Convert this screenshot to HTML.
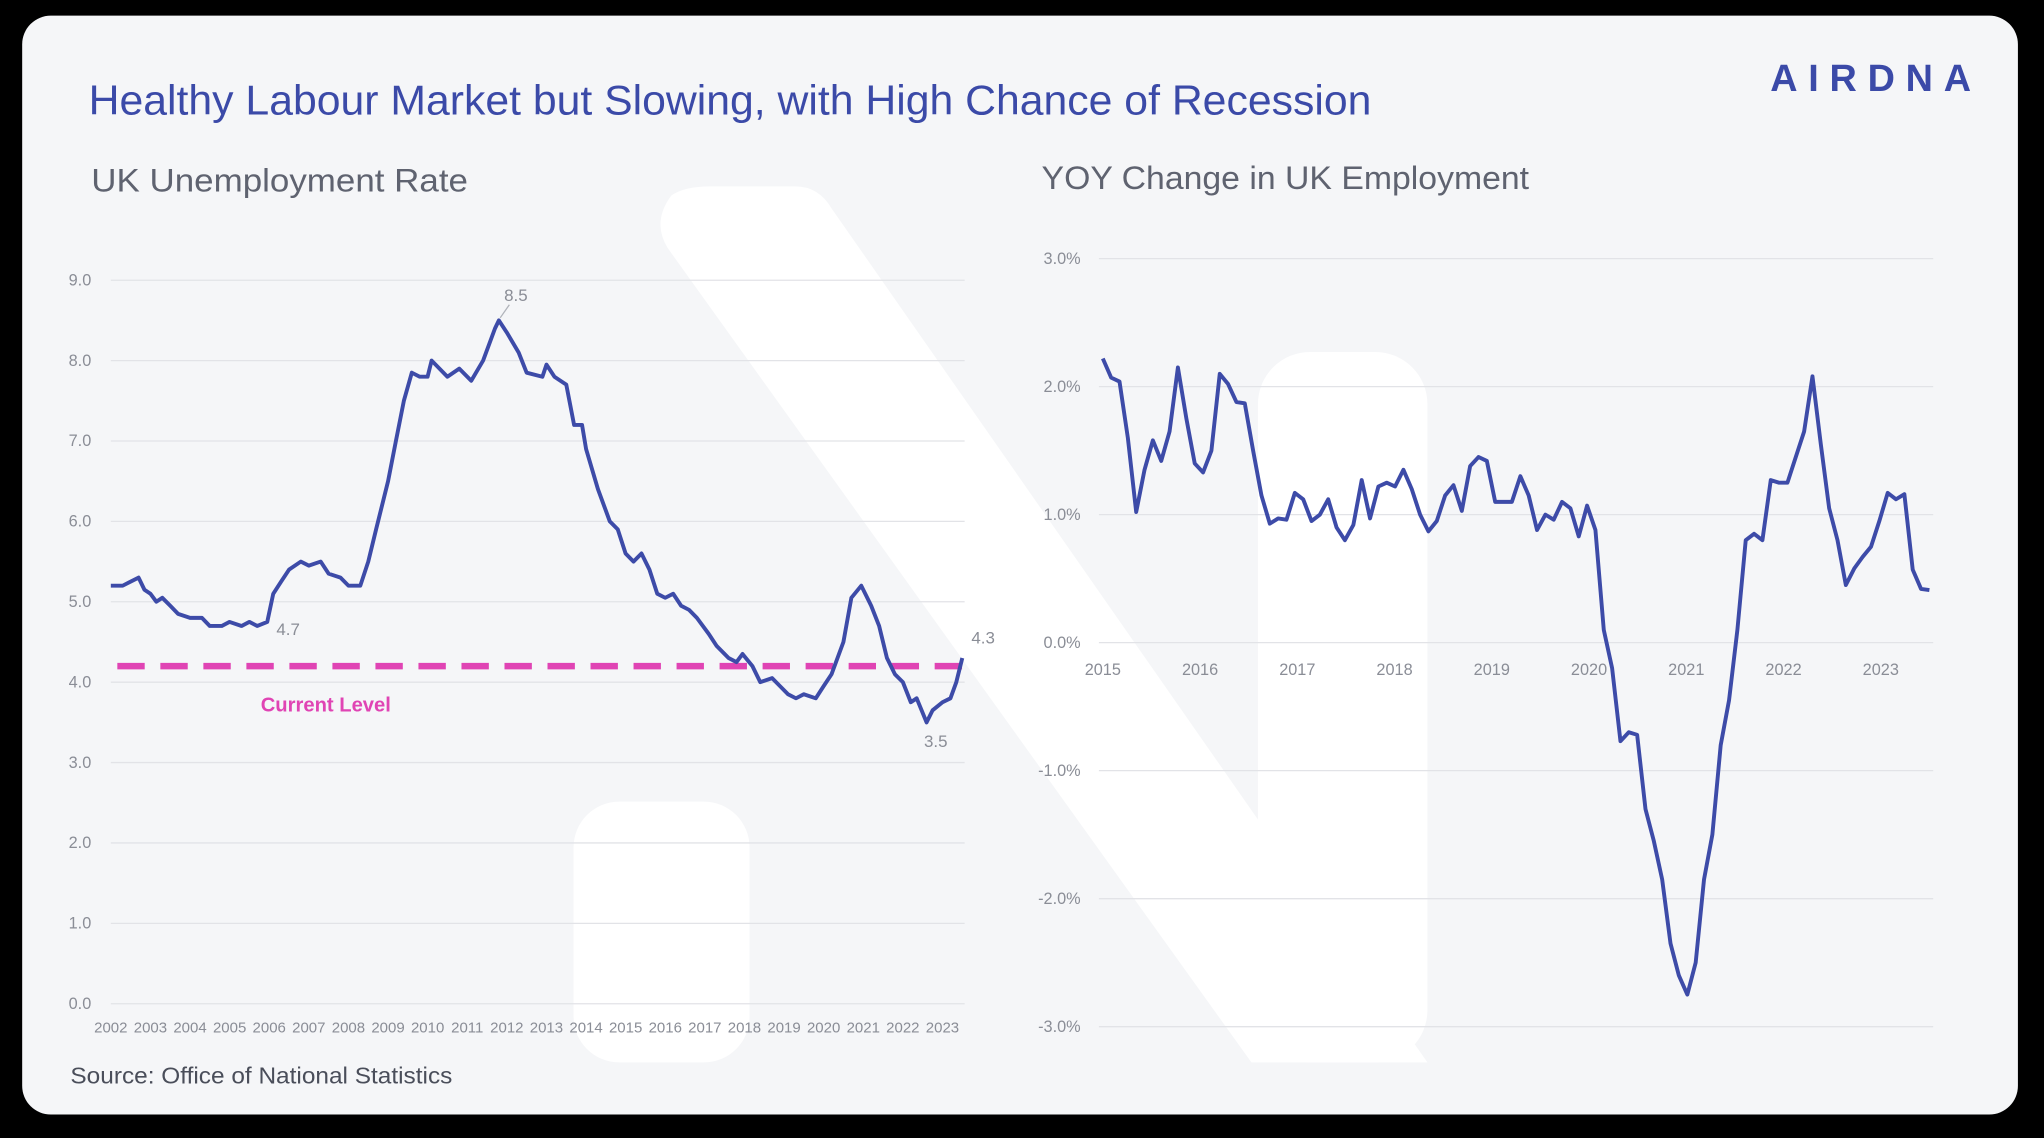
<!DOCTYPE html>
<html><head><meta charset="utf-8"><style>
html,body{margin:0;padding:0;background:#000;}
svg{display:block;}
text{font-family:"Liberation Sans",sans-serif;}
</style></head><body>
<svg id="chart" width="2044" height="1138" viewBox="0 0 1568 873" xmlns="http://www.w3.org/2000/svg">
<rect x="0" y="0" width="1568" height="873" fill="#000"/>
<rect x="17" y="12" width="1531" height="843" rx="22" fill="#f5f6f8"/>
<g fill="#ffffff">
<path d="M515,150 Q525,143 545,143 L610,143 Q628,143 638,160 L1095,815 L960,815 L512,190 Q500,170 515,150 Z"/>
<rect x="965" y="270" width="130" height="545" rx="40"/>
<rect x="440" y="615" width="135" height="200" rx="35"/>
</g>
<text x="68" y="88" font-size="32" fill="#3b4aa8" textLength="984" lengthAdjust="spacingAndGlyphs">Healthy Labour Market but Slowing, with High Chance of Recession</text>
<text x="1358" y="70" font-size="29" font-weight="bold" fill="#3b4aa8" textLength="154" lengthAdjust="spacing">AIRDNA</text>
<text x="70" y="147" font-size="25" fill="#5f6370" textLength="289" lengthAdjust="spacingAndGlyphs">UK Unemployment Rate</text>
<text x="799" y="145" font-size="25" fill="#5f6370" textLength="374" lengthAdjust="spacingAndGlyphs">YOY Change in UK Employment</text>
<text x="54" y="831" font-size="18" fill="#4a4e5a" textLength="293" lengthAdjust="spacingAndGlyphs">Source: Office of National Statistics</text>
<g id="left"></g>
<g id="right"></g>
</svg>
<script>
// ---- Left chart data: UK unemployment rate ----
const uDates = [2002.0,2002.3,2002.7,2002.85,2003.0,2003.15,2003.3,2003.5,2003.7,2004.0,2004.3,2004.5,2004.8,2005.0,2005.3,2005.5,2005.7,2005.95,2006.1,2006.3,2006.5,2006.8,2007.0,2007.3,2007.5,2007.8,2008.0,2008.3,2008.5,2008.7,2009.0,2009.2,2009.4,2009.6,2009.8,2010.0,2010.1,2010.5,2010.8,2011.1,2011.4,2011.7,2011.8,2012.0,2012.3,2012.5,2012.9,2013.0,2013.2,2013.5,2013.7,2013.9,2014.0,2014.3,2014.6,2014.8,2015.0,2015.2,2015.4,2015.6,2015.8,2016.0,2016.2,2016.4,2016.6,2016.8,2017.1,2017.3,2017.6,2017.8,2017.95,2018.2,2018.4,2018.7,2018.9,2019.1,2019.3,2019.5,2019.8,2020.0,2020.2,2020.5,2020.7,2020.95,2021.2,2021.4,2021.6,2021.8,2022.0,2022.2,2022.35,2022.6,2022.75,2023.0,2023.2,2023.35,2023.5];
const uRates = [5.2,5.2,5.3,5.15,5.1,5.0,5.05,4.95,4.85,4.8,4.8,4.7,4.7,4.75,4.7,4.75,4.7,4.75,5.1,5.25,5.4,5.5,5.45,5.5,5.35,5.3,5.2,5.2,5.5,5.9,6.5,7.0,7.5,7.85,7.8,7.8,8.0,7.8,7.9,7.75,8.0,8.4,8.5,8.35,8.1,7.85,7.8,7.95,7.8,7.7,7.2,7.2,6.9,6.4,6.0,5.9,5.6,5.5,5.6,5.4,5.1,5.05,5.1,4.95,4.9,4.8,4.6,4.45,4.3,4.25,4.35,4.2,4.0,4.05,3.95,3.85,3.8,3.85,3.8,3.95,4.1,4.5,5.05,5.2,4.95,4.7,4.3,4.1,4.0,3.75,3.8,3.5,3.65,3.75,3.8,4.0,4.3];
const uTicks = [0,1,2,3,4,5,6,7,8,9];
const uYears = [2002,2003,2004,2005,2006,2007,2008,2009,2010,2011,2012,2013,2014,2015,2016,2017,2018,2019,2020,2021,2022,2023];
const currentLevel = [4.2];
const uAnnotations = [[2011.8,8.5,"8.5"],[2005.95,4.7,"4.7"],[2022.6,3.5,"3.5"],[2023.5,4.3,"4.3"]];

// ---- Right chart data: YOY change in UK employment (monthly, %) ----
const eStartYear = 2015;
const eEndYear = 2023.5;
const eValues = [2.22,2.07,2.04,1.6,1.02,1.35,1.58,1.42,1.65,2.15,1.75,1.4,1.33,1.5,2.1,2.02,1.88,1.87,1.5,1.15,0.93,0.97,0.96,1.17,1.12,0.95,1.0,1.12,0.9,0.8,0.92,1.27,0.97,1.22,1.25,1.22,1.35,1.2,1.0,0.87,0.95,1.15,1.23,1.03,1.38,1.45,1.42,1.1,1.1,1.1,1.3,1.15,0.88,1.0,0.96,1.1,1.05,0.83,1.07,0.88,0.1,-0.2,-0.77,-0.7,-0.72,-1.3,-1.55,-1.85,-2.35,-2.6,-2.75,-2.5,-1.85,-1.5,-0.8,-0.45,0.1,0.8,0.85,0.8,1.27,1.25,1.25,1.45,1.65,2.08,1.55,1.05,0.8,0.45,0.58,0.67,0.75,0.95,1.17,1.12,1.16,0.57,0.42,0.41];
const eTicks = [-3,-2,-1,0,1,2,3];
const eYears = [2015,2016,2017,2018,2019,2020,2021,2022,2023];

const NS = "http://www.w3.org/2000/svg";
function mk(tag, attrs, parent, txt){
  const el = document.createElementNS(NS, tag);
  for (const k in attrs) el.setAttribute(k, attrs[k]);
  if (txt !== undefined) el.textContent = txt;
  parent.appendChild(el);
  return el;
}
const BLUE = "#3d4ba8", GRID = "#e2e3e7", LAB = "#8a8d96";

// Left axes
const lx = y => 85 + (y - 2002) * 30.38;
const ly = v => 770 - v * 61.67;
const L = document.getElementById('left');
uTicks.forEach(t => {
  const g = mk('line', {x1:85, x2:740, y1:ly(t), y2:ly(t), stroke:GRID, 'stroke-width':1}, L);
  
  
  const tx = mk('text', {x:70, y:ly(t)+4, 'font-size':12.5, fill:LAB, 'text-anchor':'end'}, L, t.toFixed(1));
  
  
});
uYears.forEach(yr => {
  const tx = mk('text', {x:lx(yr), y:792, 'font-size':11.5, fill:LAB, 'text-anchor':'middle'}, L, String(yr));
  
  
});
const dl = mk('line', {x1:90, x2:748, y1:ly(currentLevel[0]), y2:ly(currentLevel[0]), stroke:'#e044b4', 'stroke-width':5, 'stroke-dasharray':'21 12'}, L);


const cl = mk('text', {x:200, y:546, 'font-size':15.5, 'font-weight':'bold', fill:'#e044b4'}, L, 'Current Level');


const up = mk('polyline', {points:uDates.map((d,i)=>lx(d).toFixed(1)+','+ly(uRates[i]).toFixed(1)).join(' '), fill:'none', stroke:BLUE, 'stroke-width':3, 'stroke-linejoin':'round'}, L);


const offs = [[13,-15],[16,7],[7,19],[16,-11]];
uAnnotations.forEach((a,i) => {
  const x = lx(a[0]), y = ly(a[1]);
  const t = mk('text', {x:x+offs[i][0], y:y+offs[i][1], 'font-size':13, fill:LAB, 'text-anchor':'middle'}, L, a[2]);
  
  
  if (i === 0) {
    const ln = mk('line', {x1:x+1, y1:y-2, x2:x+8, y2:y-12, stroke:'#b0b3ba', 'stroke-width':1}, L);
    
    
  }
});

// Right axes
const rx = y => 846 + (y - 2015) * 74.6;
const ry = v => 493 - v * 98.2;
const R = document.getElementById('right');
eTicks.forEach(t => {
  const g = mk('line', {x1:843, x2:1483, y1:ry(t), y2:ry(t), stroke:GRID, 'stroke-width':1}, R);
  
  
  const tx = mk('text', {x:829, y:ry(t)+4, 'font-size':12.5, fill:LAB, 'text-anchor':'end'}, R, t.toFixed(1)+'%');
  
  
});
eYears.forEach(yr => {
  const tx = mk('text', {x:rx(yr), y:518, 'font-size':12.5, fill:LAB, 'text-anchor':'middle'}, R, String(yr));
  
  
});
const eStep = (eEndYear - eStartYear) / (eValues.length - 1);
const ep = mk('polyline', {points:eValues.map((v,i)=>rx(eStartYear+i*eStep).toFixed(1)+','+ry(v).toFixed(1)).join(' '), fill:'none', stroke:BLUE, 'stroke-width':3, 'stroke-linejoin':'round'}, R);


</script>
</body></html>
